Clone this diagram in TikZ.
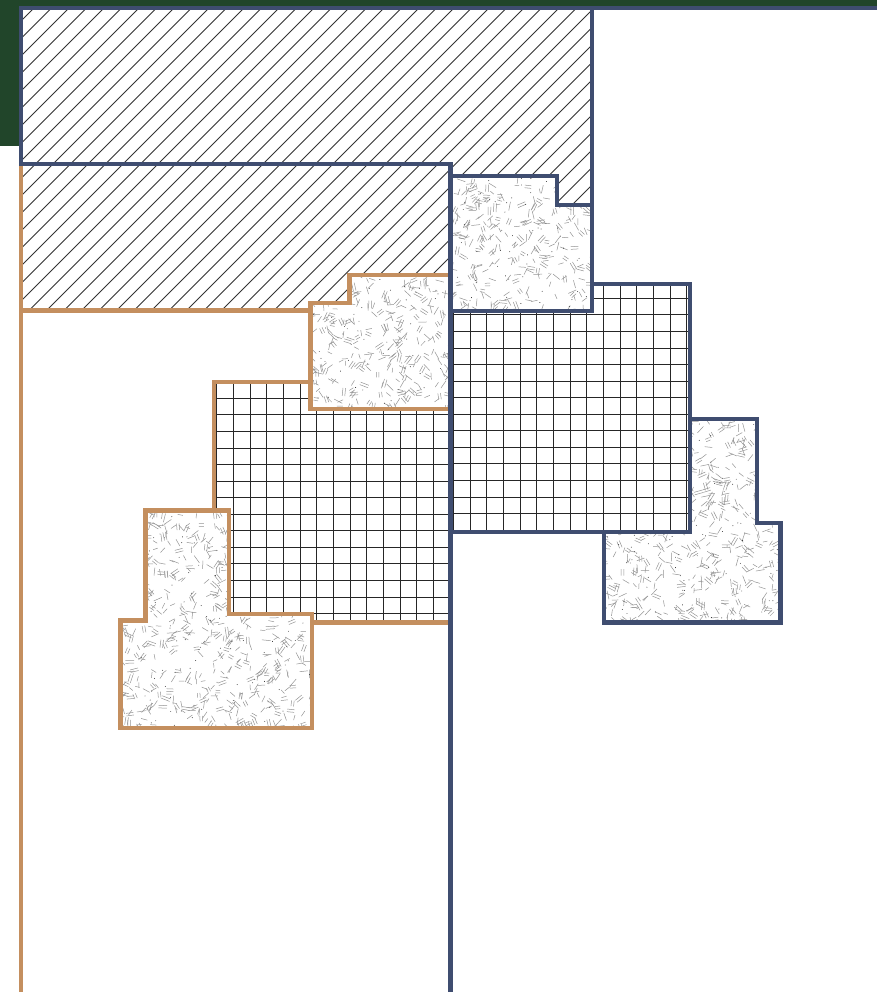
\documentclass[tikz,border=0pt]{standalone}
\definecolor{bluewallc}{HTML}{3F4D70}
\definecolor{orangewallc}{HTML}{C48F5F}
\definecolor{greenbg}{HTML}{21452A}
\tikzset{
  bluewall/.style={draw=bluewallc, line width=4.3pt, line join=miter},
  orangewall/.style={draw=orangewallc, line width=4.3pt, line join=miter},
  hatchline/.style={draw=black!80, line width=0.75pt},
  gridline/.style={draw=black!85, line width=0.8pt},
  stipline/.style={draw=black!42, line width=0.5pt},
}
\newcommand\stipplearea[4]{%
  \pgfmathtruncatemacro\stipcount{(#3-#1)*((#4-#2)/70)}%
  \foreach \i in {1,...,\stipcount}{%
    \pgfmathsetmacro\sx{#1+rnd*(#3-#1)}%
    \pgfmathsetmacro\sy{#2+rnd*(#4-#2)}%
    \pgfmathsetmacro\sa{rnd*180}%
    \pgfmathsetmacro\sb{\sa+90}%
    \pgfmathsetmacro\sl{4.5+rnd*4.5}%
    \pgfmathtruncatemacro\sk{rnd*3}%
    \ifnum\sk=0
      \draw[stipline] (\sx,\sy) -- ++(\sa:\sl) (\sx,\sy) ++(\sb:2.6) -- ++(\sa:\sl);
    \else
      \draw[stipline] (\sx,\sy) -- ++(\sa:\sl);
    \fi
  }%
  \pgfmathtruncatemacro\stipdots{(#3-#1)*((#4-#2)/300)}%
  \foreach \i in {1,...,\stipdots}{%
    \fill[black!90] ({#1+rnd*(#3-#1)},{#2+rnd*(#4-#2)}) circle (0.45);
  }%
}
\begin{document}
\begin{tikzpicture}[x=1pt,y=-1pt]
\pgfmathsetseed{4242}
\useasboundingbox (0,0) rectangle (877,992);
\clip (0,0) rectangle (877,992);
% background
\fill[greenbg] (0,0) rectangle (877,145.7);
\fill[white] (21.3,7.7) -- (890,7.7) -- (890,1000) -- (21.3,1000) -- cycle;
% hatch
\begin{scope}
  \clip (21.3,7.7) -- (592,7.7) -- (592,204.7) -- (557,204.7) -- (557,176) -- (450.5,176) -- (450.5,274.7) -- (349.5,274.7) -- (349.5,303) -- (310.5,303) -- (310.5,310.5) -- (21.3,310.5) -- cycle;
  \foreach \c in {7,24.5,...,920} \draw[hatchline] (\c,0) -- (0,\c);
\end{scope}
% stipples
\begin{scope}
  \clip (450.5,176) -- (557,176) -- (557,204.7) -- (592,204.7) -- (592,311) -- (450.5,311) -- cycle;
  \stipplearea{450}{176}{592}{311}
\end{scope}
\begin{scope}
  \clip (689.7,419.3) -- (757,419.3) -- (757,523) -- (780.5,523) -- (780.5,622.5) -- (604,622.5) -- (604,531.7) -- (689.7,531.7) -- cycle;
  \stipplearea{604}{419}{781}{623}
\end{scope}
\begin{scope}
  \clip (349.5,274.7) -- (450.5,274.7) -- (450.5,409) -- (310.5,409) -- (310.5,303) -- (349.5,303) -- cycle;
  \stipplearea{310}{274}{451}{409}
\end{scope}
\begin{scope}
  \clip (145.5,510.5) -- (229.2,510.5) -- (229.2,614.2) -- (311.8,614.2) -- (311.8,728.3) -- (120.5,728.3) -- (120.5,620.5) -- (145.5,620.5) -- cycle;
  \stipplearea{120}{510}{312}{729}
\end{scope}
% grids
\begin{scope}
  \clip (450.5,311) -- (592,311) -- (592,284) -- (689.7,284) -- (689.7,531.7) -- (450.5,531.7) -- cycle;
  \foreach \k in {-1,...,15} \draw[gridline] (453.3+\k*16.667,270) -- (453.3+\k*16.667,545);
  \foreach \k in {-2,...,15} \draw[gridline] (440,298.3+\k*16.55) -- (700,298.3+\k*16.55);
\end{scope}
\begin{scope}
  \clip (214.2,381.7) -- (310.5,381.7) -- (310.5,409) -- (450.5,409) -- (450.5,622.5) -- (311.8,622.5) -- (311.8,614.2) -- (229.2,614.2) -- (229.2,510.5) -- (214.2,510.5) -- cycle;
  \foreach \k in {-2,...,14} \draw[gridline] (233.3+\k*16.667,370) -- (233.3+\k*16.667,630);
  \foreach \k in {-2,...,15} \draw[gridline] (200,398.3+\k*16.55) -- (460,398.3+\k*16.55);
\end{scope}
% orange walls
\draw[orangewall] (21.3,164.3) -- (450.5,164.3) -- (450.5,1000) -- (21.3,1000) -- cycle;
\draw[orangewall] (21.3,164.3) -- (450.5,164.3) -- (450.5,274.7) -- (349.5,274.7) -- (349.5,303) -- (310.5,303) -- (310.5,310.5) -- (21.3,310.5) -- cycle;
\draw[orangewall] (349.5,274.7) -- (450.5,274.7) -- (450.5,409) -- (310.5,409) -- (310.5,303) -- (349.5,303) -- cycle;
\draw[orangewall] (214.2,381.7) -- (310.5,381.7) -- (310.5,409) -- (450.5,409) -- (450.5,622.5) -- (311.8,622.5) -- (311.8,614.2) -- (229.2,614.2) -- (229.2,510.5) -- (214.2,510.5) -- cycle;
\draw[orangewall] (145.5,510.5) -- (229.2,510.5) -- (229.2,614.2) -- (311.8,614.2) -- (311.8,728.3) -- (120.5,728.3) -- (120.5,620.5) -- (145.5,620.5) -- cycle;
% blue walls
\draw[bluewall] (21.3,7.7) -- (890,7.7) -- (890,1000) -- (450.5,1000) -- (450.5,164.3) -- (21.3,164.3) -- cycle;
\draw[bluewall] (21.3,7.7) -- (592,7.7) -- (592,204.7) -- (557,204.7) -- (557,176) -- (450.5,176) -- (450.5,164.3) -- (21.3,164.3) -- cycle;
\draw[bluewall] (450.5,176) -- (557,176) -- (557,204.7) -- (592,204.7) -- (592,311) -- (450.5,311) -- cycle;
\draw[bluewall] (450.5,311) -- (592,311) -- (592,284) -- (689.7,284) -- (689.7,531.7) -- (450.5,531.7) -- cycle;
\draw[bluewall] (689.7,419.3) -- (757,419.3) -- (757,523) -- (780.5,523) -- (780.5,622.5) -- (604,622.5) -- (604,531.7) -- (689.7,531.7) -- cycle;
\end{tikzpicture}
\end{document}
